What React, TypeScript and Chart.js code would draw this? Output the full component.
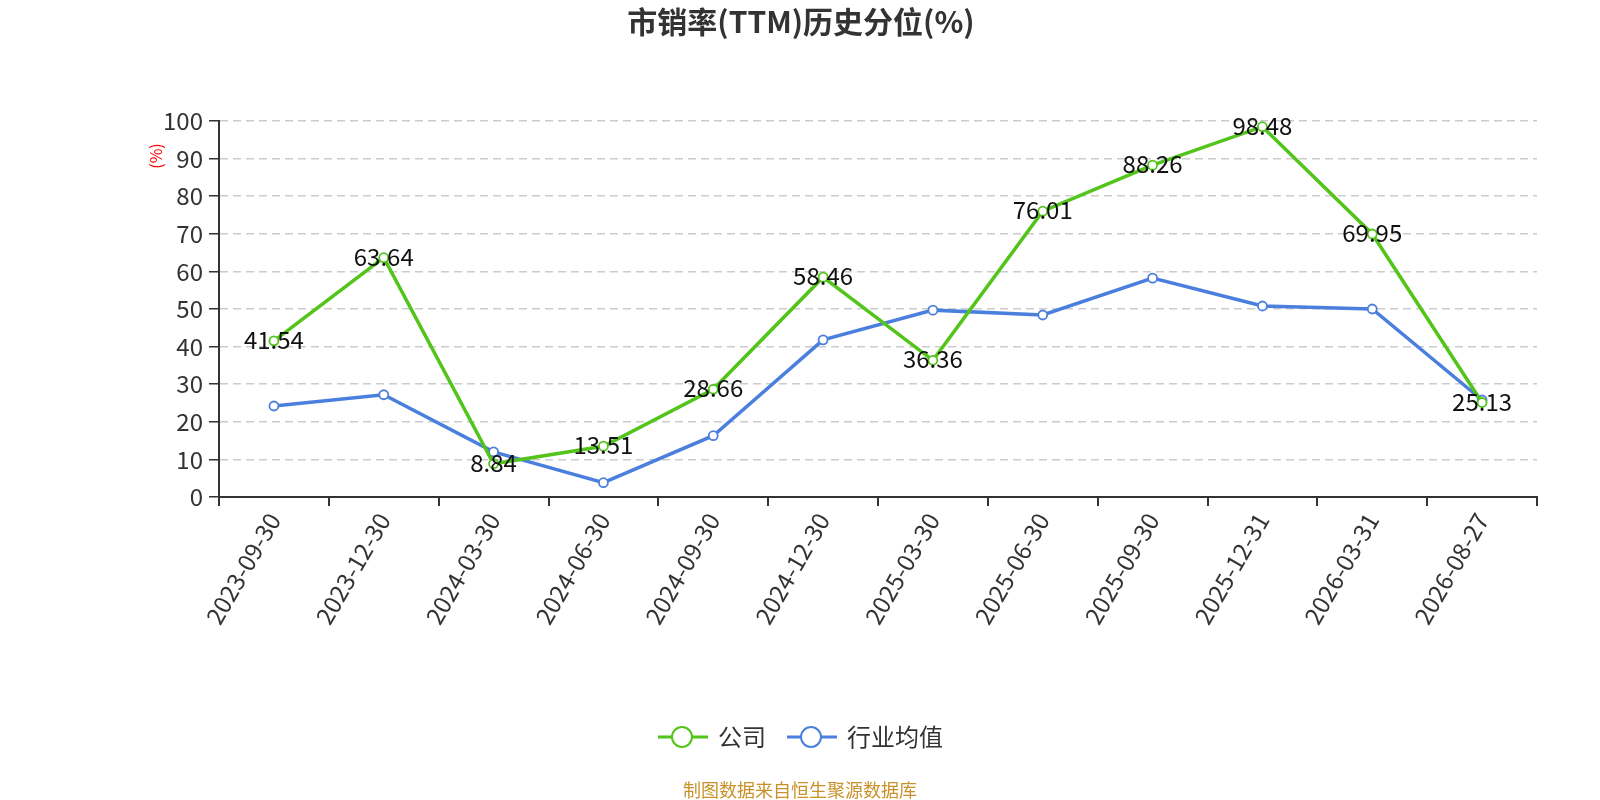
import { useEffect, useRef } from "react";
import { Chart, registerables } from "chart.js";

Chart.register(...registerables);

// data
const dates = [
  "2023-09-30", "2023-12-30", "2024-03-30", "2024-06-30", "2024-09-30", "2024-12-30",
  "2025-03-30", "2025-06-30", "2025-09-30", "2025-12-31", "2026-03-31", "2026-08-27",
];
const companyValues = [41.54, 63.64, 8.84, 13.51, 28.66, 58.46, 36.36, 76.01, 88.26, 98.48, 69.95, 25.13];
const industryValues = [24.2, 27.2, 12.0, 3.8, 16.3, 41.8, 49.7, 48.4, 58.2, 50.8, 50.0, 25.8];
const legendNames = ["公司", "行业均值"];

const GREEN = "#52c41a";
const BLUE = "#4b7fde";
const FONT = "'Noto Sans CJK SC', 'Noto Sans', sans-serif";

// value labels on the company line, plus title, legend, unit and footer
const decorPlugin = {
  id: "decor",
  afterDatasetsDraw(chart: any) {
    const ctx = chart.ctx;
    const meta = chart.getDatasetMeta(0);
    ctx.save();
    ctx.font = `24px ${FONT}`;
    ctx.fillStyle = "#111";
    ctx.textAlign = "center";
    ctx.textBaseline = "middle";
    meta.data.forEach((pt: any, i: number) => {
      ctx.fillText(companyValues[i].toFixed(2), pt.x, pt.y - 1);
    });
    ctx.restore();
  },
  afterDraw(chart: any) {
    const ctx = chart.ctx;
    ctx.save();
    // title
    ctx.font = `bold 30px ${FONT}`;
    ctx.fillStyle = "#333";
    ctx.textAlign = "center";
    ctx.textBaseline = "middle";
    ctx.fillText("市销率(TTM)历史分位(%)", 801, 22);

    // y unit
    ctx.save();
    ctx.translate(156, 156);
    ctx.rotate(-Math.PI / 2);
    ctx.font = `16px ${FONT}`;
    ctx.fillStyle = "#ff0000";
    ctx.fillText("(%)", 0, 0);
    ctx.restore();

    // legend
    const items = [
      { x: 658, color: GREEN, text: legendNames[0] },
      { x: 787, color: BLUE, text: legendNames[1] },
    ];
    const ly = 737;
    items.forEach((it) => {
      ctx.strokeStyle = it.color;
      ctx.lineWidth = 3;
      ctx.beginPath();
      ctx.moveTo(it.x, ly);
      ctx.lineTo(it.x + 50, ly);
      ctx.stroke();
      ctx.beginPath();
      ctx.arc(it.x + 24, ly, 10, 0, Math.PI * 2);
      ctx.fillStyle = "#fff";
      ctx.fill();
      ctx.lineWidth = 2;
      ctx.stroke();
      ctx.font = `24px ${FONT}`;
      ctx.fillStyle = "#333";
      ctx.textAlign = "left";
      ctx.fillText(it.text, it.x + 60, ly);
    });

    // footer
    ctx.font = `18px ${FONT}`;
    ctx.fillStyle = "#c8922a";
    ctx.textAlign = "center";
    ctx.fillText("制图数据来自恒生聚源数据库", 800, 790);
    ctx.restore();
  },
};

export default function App() {
  const chartRef = useRef<HTMLCanvasElement | null>(null);

  useEffect(() => {
    document.body.style.margin = "0";
    if (!chartRef.current) return;
    const ctx = chartRef.current.getContext("2d");
    if (!ctx) return;
    const myChart = new Chart(ctx, {
      type: "line",
      data: {
        labels: dates,
        datasets: [
          {
            label: legendNames[0],
            data: companyValues,
            borderColor: GREEN,
            backgroundColor: "#fff",
            borderWidth: 3.5,
            pointRadius: 4.5,
            pointBorderWidth: 1.8,
            pointBackgroundColor: "#fff",
            pointBorderColor: GREEN,
            tension: 0,
          },
          {
            label: legendNames[1],
            data: industryValues,
            borderColor: BLUE,
            backgroundColor: "#fff",
            borderWidth: 3.5,
            pointRadius: 4.5,
            pointBorderWidth: 1.8,
            pointBackgroundColor: "#fff",
            pointBorderColor: BLUE,
            tension: 0,
          },
        ],
      },
      options: {
        animation: false,
        responsive: false,
        layout: { padding: { top: 121, right: 63, bottom: 0, left: 0 } },
        plugins: {
          legend: { display: false },
          title: { display: false },
          tooltip: { enabled: false },
        },
        scales: {
          x: {
            offset: true,
            grid: {
              offset: true,
              drawOnChartArea: false,
              color: "#333",
              tickLength: 9,
              lineWidth: 2,
            },
            border: { color: "#333", width: 2 },
            ticks: {
              color: "#333",
              font: { size: 24, family: FONT },
              minRotation: 60,
              maxRotation: 60,
              padding: 2,
              autoSkip: false,
            },
            afterFit: (scale: any) => {
              scale.height = 303;
            },
          },
          y: {
            min: 0,
            max: 100,
            grid: {
              color: "#cccccc",
              lineWidth: 1.5,
              tickColor: "#333",
              tickLength: 10,
            },
            border: { color: "#333", width: 2, dash: [8, 5] },
            ticks: {
              stepSize: 10,
              color: "#333",
              font: { size: 24, family: FONT },
              padding: 6,
            },
            afterFit: (scale: any) => {
              scale.width = 219;
            },
          },
        },
      },
      plugins: [decorPlugin],
    });
    return () => {
      myChart.destroy();
    };
  }, []);

  return (
    <div style={{ width: 1600, height: 800, background: "#fff" }}>
      <canvas ref={chartRef} width={1600} height={800}></canvas>
    </div>
  );
}
